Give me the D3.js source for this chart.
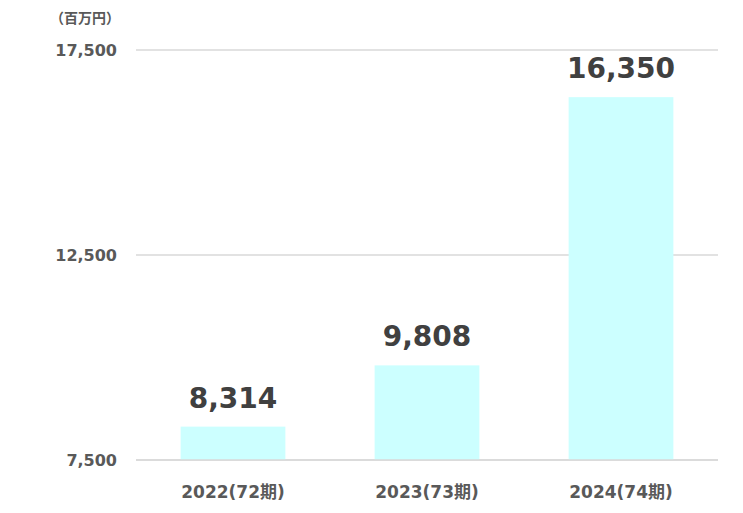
<!DOCTYPE html>
<html>
<head>
<meta charset="utf-8">
<script src="https://cdn.jsdelivr.net/npm/d3@7"></script>
<style>
  body { margin: 0; background: #fff; }
  text { font-family: "DejaVu Sans", Verdana, "Noto Sans CJK JP", sans-serif; font-weight: bold; }
</style>
</head>
<body>
<div id="chart"></div>
<script>
// data
var categories = ["2022(72期)", "2023(73期)", "2024(74期)"];
var values = [8314, 9808, 16350];
var yTicks = [7500, 12500, 17500];
var unitLabel = "（百万円）";

var margin = {top: 50, right: 25, bottom: 53, left: 136},
    width = 743 - margin.left - margin.right,
    height = 513 - margin.top - margin.bottom;

var svg = d3.select("#chart")
  .append("svg")
    .attr("width", 743)
    .attr("height", 513)
  .append("g")
    .attr("transform", "translate(" + margin.left + "," + margin.top + ")");

var x = d3.scaleBand()
  .domain(categories)
  .range([0, width])
  .paddingInner(0.46)
  .paddingOuter(0.23);

var y = d3.scaleLinear()
  .domain([7500, 17500])
  .range([height, 0]);

// gridlines
svg.selectAll("grid")
  .data(yTicks)
  .enter()
  .append("line")
    .attr("x1", 0)
    .attr("x2", width)
    .attr("y1", function(d) { return y(d); })
    .attr("y2", function(d) { return y(d); })
    .attr("stroke", "#d9d9d9")
    .attr("stroke-width", 1.5);

// Y axis labels
var yAxis = svg.append("g")
  .call(d3.axisLeft(y).tickValues(yTicks).tickSize(0).tickPadding(19).tickFormat(d3.format(",")));
yAxis.select(".domain").remove();
yAxis.selectAll("text")
  .style("font-size", "16px")
  .attr("fill", "#595959");

// unit label
svg.append("text")
  .attr("x", -16)
  .attr("y", -27)
  .attr("text-anchor", "end")
  .style("font-size", "14px")
  .attr("fill", "#595959")
  .text(unitLabel);

// bars
svg.selectAll("bar")
  .data(values)
  .enter()
  .append("rect")
    .attr("x", function(d, i) { return x(categories[i]); })
    .attr("width", x.bandwidth())
    .attr("y", function(d) { return y(d); })
    .attr("height", function(d) { return height - y(d); })
    .attr("fill", "#ccffff");

// redraw base line over bars
svg.append("line")
  .attr("x1", 0)
  .attr("x2", width)
  .attr("y1", y(7500))
  .attr("y2", y(7500))
  .attr("stroke", "#d9d9d9")
  .attr("stroke-width", 1.5);

// value labels
svg.selectAll("vlabel")
  .data(values)
  .enter()
  .append("text")
    .attr("x", function(d, i) { return x(categories[i]) + x.bandwidth() / 2; })
    .attr("y", function(d) { return y(d) - 19; })
    .attr("text-anchor", "middle")
    .style("font-size", "28px")
    .attr("fill", "#404040")
    .text(function(d) { return d3.format(",")(d); });

// X axis labels
var xAxis = svg.append("g")
  .attr("transform", "translate(0," + height + ")")
  .call(d3.axisBottom(x).tickSize(0).tickPadding(26));
xAxis.select(".domain").remove();
xAxis.selectAll("text")
  .style("font-size", "17px")
  .attr("fill", "#595959");
</script>
</body>
</html>
